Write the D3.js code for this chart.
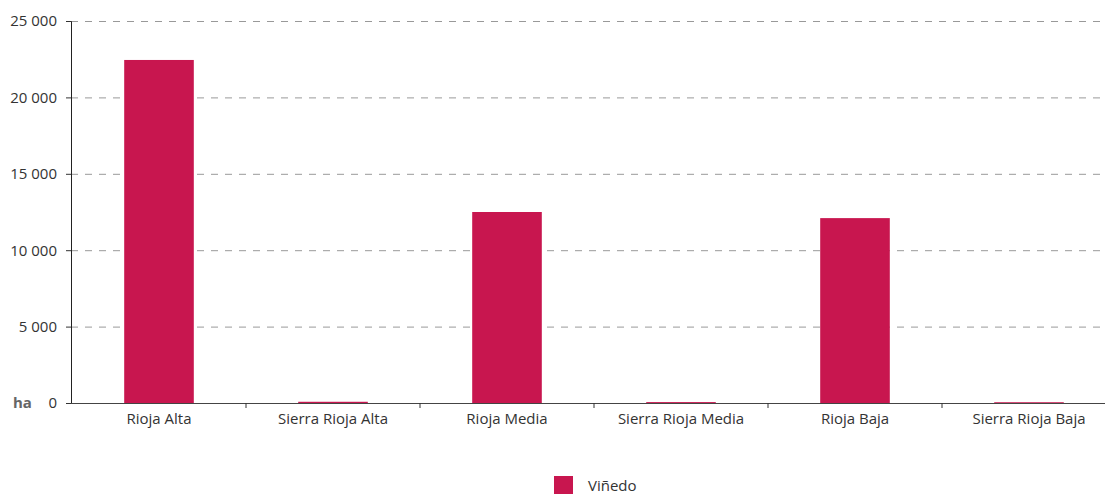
<!DOCTYPE html>
<html><head><meta charset="utf-8">
<script src="https://cdn.jsdelivr.net/npm/d3@7"></script>
<style>body{margin:0;background:#fff}svg{display:block}text{font-family:"Open Sans",sans-serif}</style>
</head><body>
<script>
const categories = ["Rioja Alta","Sierra Rioja Alta","Rioja Media","Sierra Rioja Media","Rioja Baja","Sierra Rioja Baja"];
const values = [22450, 80, 12500, 60, 12100, 50];
const yTicks = [0,5000,10000,15000,20000,25000];
const seriesName = "Viñedo";
const unit = "ha";
const color = "#C8164F";

const W=1105,H=495;
const svg=d3.select("body").append("svg").attr("width",W).attr("height",H);
const x=d3.scaleBand().domain(categories).range([72,1116]).paddingInner(0.6).paddingOuter(0.3);
const y=d3.scaleLinear().domain([0,25000]).range([403,21]);
const fmt=v=>d3.format(",")(v).replace(/,/g," ");

// grid
svg.append("g").selectAll("line").data(yTicks.filter(d=>d>0)).join("line")
  .attr("x1",71).attr("x2",W).attr("y1",d=>y(d)+0.5).attr("y2",d=>y(d)+0.5)
  .attr("stroke","#999").attr("stroke-width",1).attr("stroke-dasharray","7,7");

// bars
svg.append("g").selectAll("rect").data(categories).join("rect")
  .attr("x",d=>x(d)).attr("width",x.bandwidth())
  .attr("y",(d,i)=>y(values[i])).attr("height",(d,i)=>y(0)-y(values[i]))
  .attr("fill",color);

// y axis
const ya=svg.append("g").attr("transform","translate(71,0)")
  .call(d3.axisLeft(y).tickValues(yTicks).tickFormat(fmt).tickSize(5).tickPadding(9));
ya.select(".domain").attr("stroke","#222");
ya.selectAll(".tick line").attr("stroke","#333");
ya.selectAll("text").attr("font-size",15).attr("fill","#333").attr("font-family","Open Sans, sans-serif");

// x axis
const xa=svg.append("g").attr("transform","translate(0,403)")
  .call(d3.axisBottom(x).tickSize(0).tickPadding(8));
xa.select(".domain").remove();
xa.append("line").attr("x1",71).attr("x2",W).attr("y1",0.5).attr("y2",0.5).attr("stroke","#444");
xa.selectAll(".tick text").attr("font-size",15).attr("fill","#333").attr("font-family","Open Sans, sans-serif").attr("dy","0.85em");
// category separators
svg.append("g").selectAll("line").data(categories.slice(1)).join("line")
  .attr("x1",d=>x(d)-x.step()*x.paddingInner()/2).attr("x2",d=>x(d)-x.step()*x.paddingInner()/2)
  .attr("y1",403).attr("y2",408).attr("stroke","#333");

svg.append("text").attr("x",13).attr("y",408).attr("font-size",15).attr("font-weight","bold").attr("fill","#666").text(unit);

// legend
svg.append("rect").attr("x",554).attr("y",476).attr("width",19).attr("height",18).attr("fill",color);
svg.append("text").attr("x",588).attr("y",491).attr("font-size",15).attr("fill","#333").text(seriesName);
</script>
</body></html>
